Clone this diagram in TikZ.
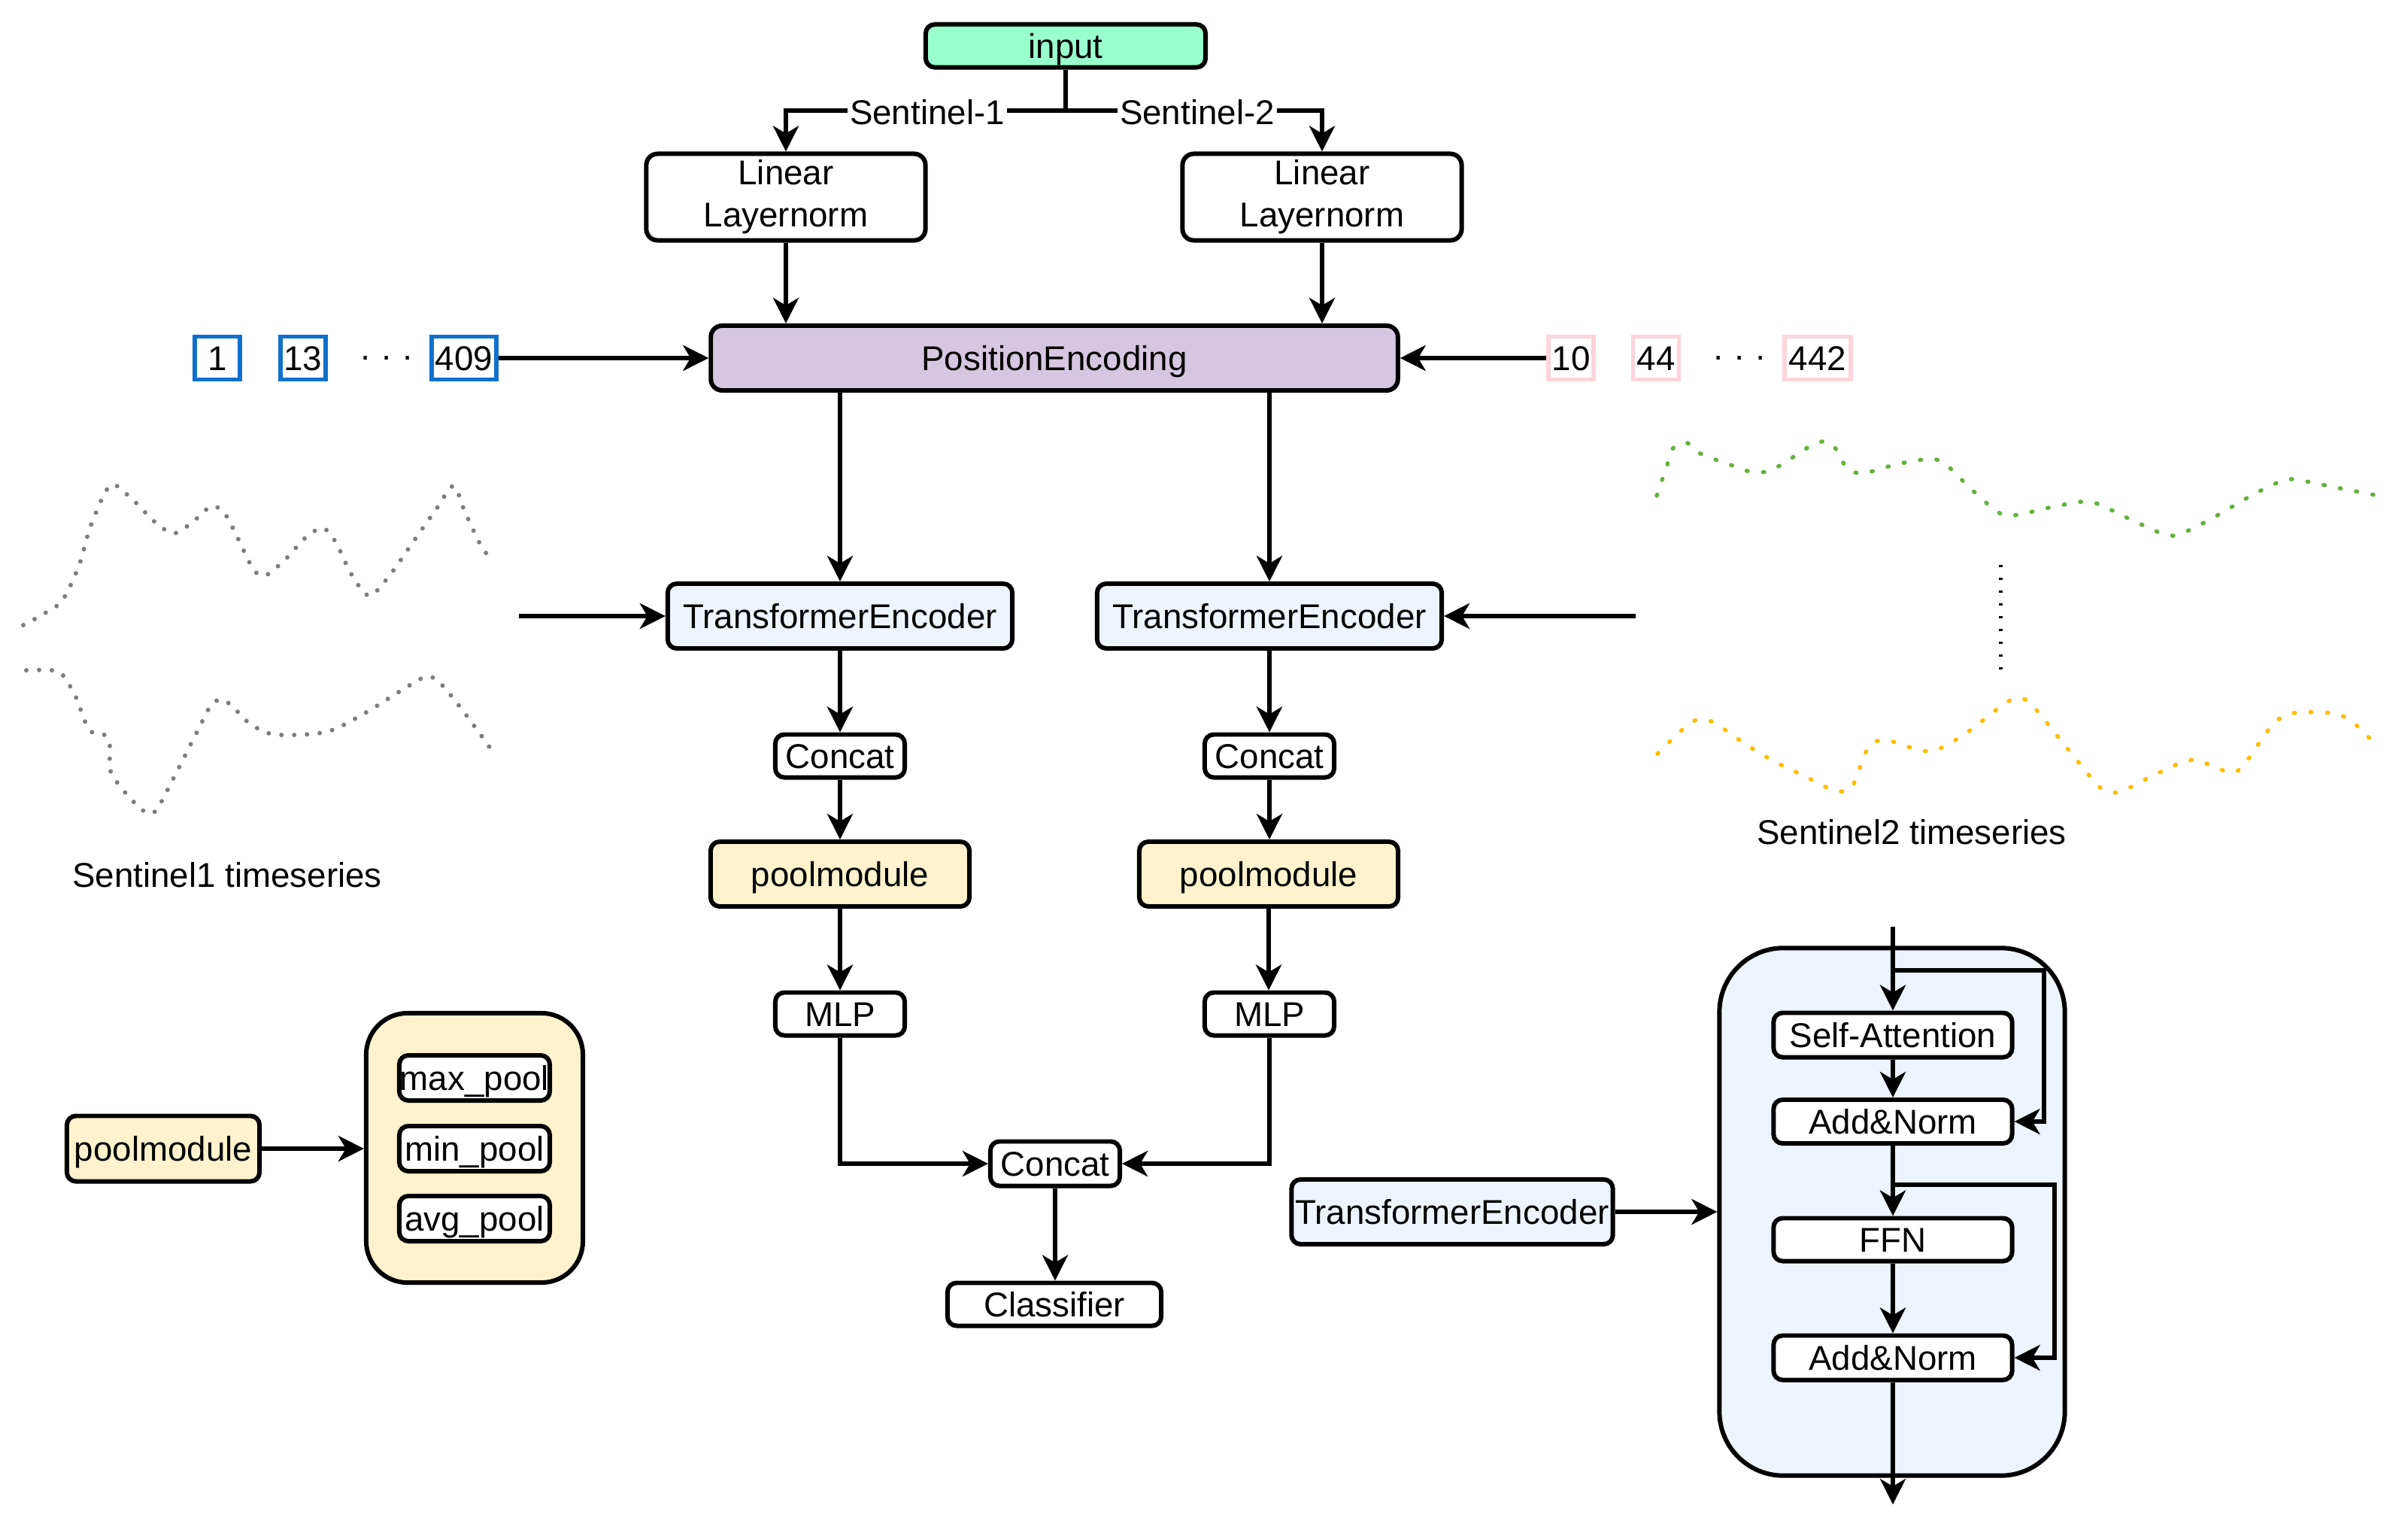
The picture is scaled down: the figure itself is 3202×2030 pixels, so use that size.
\documentclass[tikz,border=0pt]{standalone}
\usepackage{fontspec}
\setmainfont{Liberation Sans}
\usetikzlibrary{arrows.meta,calc}
\newcommand{\myfs}{\fontsize{13}{16}\selectfont}
\definecolor{inputgreen}{RGB}{153,255,204}
\definecolor{pefill}{RGB}{213,199,225}
\definecolor{tefill}{RGB}{238,244,253}
\definecolor{poolfill}{RGB}{255,242,204}
\definecolor{numblue}{RGB}{16,112,204}
\definecolor{numpink}{RGB}{255,212,220}
\definecolor{dotgray}{RGB}{125,125,125}
\definecolor{dotgreen}{RGB}{100,176,60}
\definecolor{dotyellow}{RGB}{255,188,0}
\begin{document}
\begin{tikzpicture}[x=0.01cm,y=-0.01cm,
  boxbase/.style={draw, line width=1.7pt, rounded corners=0.12cm, inner sep=0pt, font=\myfs, align=center, fill=white},
  box/.style={boxbase, text height=0.40cm, text depth=0.07cm},
  numbox/.style={draw, line width=1.6pt, inner sep=0pt, font=\myfs, fill=white, minimum height=0.57cm, text height=0.40cm, text depth=0.07cm},
  arr/.style={line width=1.6pt, -{Stealth[length=0.34cm,width=0.34cm,inset=0.1cm]}},
  ln/.style={line width=1.6pt},
  lab/.style={font=\myfs, inner sep=1pt},
  grayts/.style={draw=dotgray, line width=0.06cm, line cap=round, dash pattern=on 0pt off 0.17cm},
  colts/.style={line width=0.055cm, line cap=round, dash pattern=on 0.015cm off 0.205cm},
]
\useasboundingbox (0,0) rectangle (3202,2030);

% ---------- top ----------
\node[box, fill=inputgreen, minimum width=3.72cm, minimum height=0.57cm] (input) at (1417,61) {input};
\node[boxbase, rounded corners=0.15cm, minimum width=3.71cm, minimum height=1.15cm] (lin1) at (1045,262) {Linear\\Layernorm};
\node[boxbase, rounded corners=0.15cm, minimum width=3.71cm, minimum height=1.15cm] (lin2) at (1758,262) {Linear\\Layernorm};
\coordinate (j) at (1417,147);
\draw[arr] (input.south) -- (j) -| (lin1.north);
\draw[arr] (j) -| (lin2.north);
\node[lab, fill=white] (s1lab) at (1233,149) {Sentinel-1};
\node[lab, fill=white] (s2lab) at (1592,149) {Sentinel-2};

\node[box, fill=pefill, rounded corners=0.15cm, minimum width=9.13cm, minimum height=0.86cm] (pe) at (1402,476) {PositionEncoding};
\draw[arr] (lin1.south) -- (lin1.south |- pe.north);
\draw[arr] (lin2.south) -- (lin2.south |- pe.north);

% number boxes
\node[numbox, draw=numblue, minimum width=0.60cm] (n1) at (289,476) {1};
\node[numbox, draw=numblue, minimum width=0.60cm] (n13) at (403,476) {13};
\node[lab] (d1) at (514,481) {· · ·};
\node[numbox, draw=numblue, minimum width=0.86cm] (n409) at (617,476) {409};
\node[numbox, draw=numpink, minimum width=0.60cm] (n10) at (2089,476) {10};
\node[numbox, draw=numpink, minimum width=0.61cm] (n44) at (2202,476) {44};
\node[lab] (d2) at (2313,481) {· · ·};
\node[numbox, draw=numpink, minimum width=0.88cm] (n442) at (2417,476) {442};
\draw[arr] (n409.east) -- (pe.west);
\draw[arr] (n10.west) -- (pe.east);

% ---------- encoder columns ----------
\node[box, fill=tefill, minimum width=4.58cm, minimum height=0.86cm] (te1) at (1117,819) {TransformerEncoder};
\node[box, fill=tefill, minimum width=4.58cm, minimum height=0.86cm] (te2) at (1688,819) {TransformerEncoder};
\draw[arr] (te1.north |- pe.south) -- (te1.north);
\draw[arr] (te2.north |- pe.south) -- (te2.north);
\coordinate (s1in) at (690,819);
\coordinate (s2in) at (2175,819);
\draw[arr] (s1in) -- (te1.west);
\draw[arr] (s2in) -- (te2.east);

\node[box, minimum width=1.72cm, minimum height=0.57cm] (cat1) at (1117,1005) {Concat};
\node[box, minimum width=1.72cm, minimum height=0.57cm] (cat2) at (1688,1005) {Concat};
\node[box, fill=poolfill, minimum width=3.44cm, minimum height=0.86cm] (pool1) at (1117,1162) {poolmodule};
\node[box, fill=poolfill, minimum width=3.44cm, minimum height=0.86cm] (pool2) at (1687,1162) {poolmodule};
\node[box, minimum width=1.72cm, minimum height=0.57cm] (mlp1) at (1117,1348) {MLP};
\node[box, minimum width=1.72cm, minimum height=0.57cm] (mlp2) at (1688,1348) {MLP};
\node[box, minimum width=1.72cm, minimum height=0.59cm] (cat3) at (1403,1547) {Concat};
\node[box, minimum width=2.84cm, minimum height=0.57cm] (cls) at (1402,1734) {Classifier};

\draw[arr] (te1.south) -- (cat1.north);
\draw[arr] (te2.south) -- (cat2.north);
\draw[arr] (cat1.south) -- (pool1.north);
\draw[arr] (cat2.south) -- (cat2.south |- pool2.north);
\draw[arr] (pool1.south) -- (mlp1.north);
\draw[arr] (pool2.south) -- (pool2.south |- mlp2.north);
\draw[arr] (mlp1.south) |- (cat3.west);
\draw[arr] (mlp2.south) |- (cat3.east);
\draw[arr] (cat3.south) -- (cat3.south |- cls.north);

% ---------- pool module detail ----------
\node[box, fill=poolfill, minimum width=2.56cm, minimum height=0.87cm] (poolL) at (217,1527) {poolmodule};
\node[boxbase, fill=poolfill, rounded corners=0.55cm, minimum width=2.88cm, minimum height=3.58cm] (poolO) at (631,1526) {};
\node[box, minimum width=2.00cm, minimum height=0.60cm] (maxp) at (631,1433) {max\_pool};
\node[box, minimum width=2.00cm, minimum height=0.60cm] (minp) at (631,1527) {min\_pool};
\node[box, minimum width=2.00cm, minimum height=0.60cm] (avgp) at (631,1620) {avg\_pool};
\draw[arr] (poolL.east) -- (poolL.east -| poolO.west);

% ---------- transformer encoder detail ----------
\node[box, fill=tefill, minimum width=4.27cm, minimum height=0.86cm] (teS) at (1931,1611) {TransformerEncoder};
\node[boxbase, fill=tefill, rounded corners=0.85cm, minimum width=4.59cm, minimum height=7.01cm] (teO) at (2516,1611) {};
\node[box, minimum width=3.17cm, minimum height=0.59cm] (sa) at (2517,1376) {Self-Attention};
\node[box, minimum width=3.17cm, minimum height=0.58cm] (an1) at (2517,1491) {Add\&Norm};
\node[box, minimum width=3.17cm, minimum height=0.57cm] (ffn) at (2517,1648) {FFN};
\node[box, minimum width=3.17cm, minimum height=0.59cm] (an2) at (2517,1805) {Add\&Norm};
\coordinate (ttop) at (2517,1232);
\coordinate (tbot) at (2517,2000);
\coordinate (sk1) at (2517,1290);
\coordinate (sk1r) at (2718,1290);
\coordinate (sk2) at (2517,1575);
\coordinate (sk2r) at (2732,1575);
\draw[arr] (ttop) -- (sa.north);
\draw[arr] (sk1) -- (sk1r) |- (an1.east);
\draw[arr] (sa.south) -- (an1.north);
\draw[arr] (an1.south) -- (ffn.north);
\draw[arr] (sk2) -- (sk2r) |- (an2.east);
\draw[arr] (ffn.south) -- (an2.north);
\draw[arr] (an2.south) -- (tbot);
\draw[arr] (teS.east) -- (teS.east -| teO.west);

% ---------- time series ----------
\draw[grayts] plot[smooth, tension=0.5] coordinates {(31,831) (60,815) (83,798) (105,752) (121,698) (147,645) (175,663) (206,694) (231,709) (255,695) (281,673) (299,683) (316,715) (337,757) (353,765) (380,743) (406,715) (429,702) (446,720) (467,763) (491,792) (518,765) (551,718) (580,677) (603,646) (618,680) (641,728) (658,747)};
\draw[grayts] plot[smooth, tension=0.5] coordinates {(35,891) (69,891) (84,898) (101,927) (113,959) (123,974) (139,977) (146,991) (147,1025) (166,1053) (191,1078) (207,1078) (232,1032) (263,971) (279,940) (292,930) (307,937) (331,961) (362,976) (413,976) (446,969) (492,944) (535,917) (565,900) (581,904) (604,930) (635,971) (655,999)};
\node[lab] (ts1) at (302,1163) {Sentinel1 timeseries};

\draw[colts, draw=dotgreen] plot[smooth, tension=0.5] coordinates {(2203,659) (2218,615) (2226,594) (2244,589) (2261,603) (2304,619) (2327,627) (2349,627) (2370,617) (2409,592) (2430,587) (2445,602) (2456,623) (2478,629) (2523,617) (2568,610) (2589,619) (2622,651) (2657,681) (2679,685) (2724,675) (2768,667) (2790,670) (2832,690) (2874,709) (2896,711) (2938,691) (2997,657) (3038,638) (3061,639) (3106,648) (3173,661)};
\draw[colts, draw=dotyellow] plot[smooth, tension=0.5] coordinates {(2204,1002) (2237,970) (2256,957) (2278,960) (2316,986) (2355,1010) (2396,1030) (2437,1050) (2459,1050) (2470,1030) (2477,1009) (2488,989) (2509,984) (2552,997) (2575,997) (2614,975) (2669,933) (2691,929) (2708,944) (2737,980) (2780,1033) (2796,1049) (2818,1053) (2859,1033) (2900,1014) (2922,1011) (2966,1027) (2984,1016) (3010,979) (3025,960) (3044,949) (3067,947) (3090,947) (3113,951) (3132,963) (3164,995)};
\draw[line width=0.05cm, dash pattern=on 0.03cm off 0.14cm] (2660,751) -- (2660,892);
\node[lab] (ts2) at (2542,1106) {Sentinel2 timeseries};
\end{tikzpicture}
\end{document}
